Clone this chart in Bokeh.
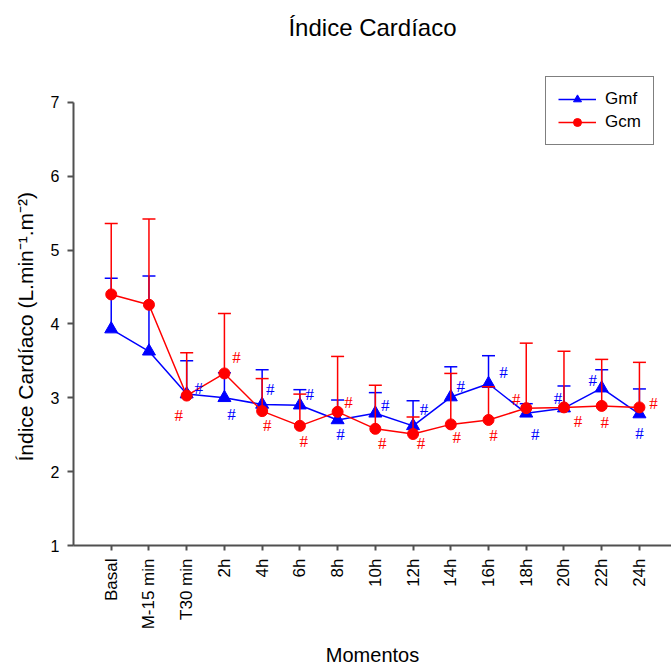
import math
from bokeh.plotting import figure
from bokeh.models import (Range1d, FixedTicker, ColumnDataSource, Legend,
                          LegendItem, Title)
from bokeh.core.properties import value
from bokeh.embed import file_html
from bokeh.resources import INLINE

# ---------------- data ----------------
momentos = ["Basal", "M-15 min", "T30 min", "2h", "4h", "6h", "8h", "10h",
            "12h", "14h", "16h", "18h", "20h", "22h", "24h"]
posicao = [1, 2, 3, 4, 5, 6, 7, 8, 9, 10, 11, 12, 13, 14, 15]
y_ticks = [1, 2, 3, 4, 5, 6, 7]

gmf_media = [3.93, 3.63, 3.05, 3.00, 2.91, 2.90, 2.70, 2.79, 2.62, 3.01, 3.19, 2.79, 2.86, 3.13, 2.78]
gmf_dp    = [0.69, 1.02, 0.45, 0.34, 0.47, 0.21, 0.27, 0.28, 0.34, 0.41, 0.38, 0.13, 0.30, 0.25, 0.34]
gcm_media = [4.40, 4.26, 3.03, 3.33, 2.82, 2.62, 2.81, 2.58, 2.51, 2.64, 2.70, 2.86, 2.87, 2.89, 2.87]
gcm_dp    = [0.96, 1.16, 0.58, 0.81, 0.44, 0.43, 0.75, 0.59, 0.23, 0.69, 0.45, 0.88, 0.76, 0.63, 0.61]

# significance marks (#): 1 = marked
gmf_sig = [0, 0, 1, 1, 1, 1, 1, 1, 1, 1, 1, 1, 1, 1, 1]
gcm_sig = [0, 0, 1, 1, 1, 1, 1, 1, 1, 1, 1, 1, 1, 1, 1]

# ---------------- styles (pixel offsets of the # marks) ----------------
gmf_dx = [0, 0, 12, 7, 8, 10, 3, 10, 11, 10, 15, 9, -6, -9, 0]
gmf_dy = [0, 0, -6, 17, -15, -11, 15, -8, -16, -11, -11, 21, -10, -8, 19]
gcm_dx = [0, 0, -8, 12, 5, 4, 11, 7, 8, 6, 5, -10, 14, 3, 14]
gcm_dy = [0, 0, 20, -16, 14, 16, -9, 15, 10, 13, 16, -9, 14, 17, -4]

BLUE = "#0000FF"
RED = "#FF0000"
AXIS = "#505050"
FONT = "Liberation Sans"

# frame: left 72, top 54, bottom 546 (1 -> 546 px, 7 -> 102 px, 74 px/unit)
p = figure(width=671, height=669, output_backend="svg", toolbar_location=None,
           x_range=Range1d(0, 15.85), y_range=Range1d(1, 7.6486),
           min_border_left=72, min_border_right=0, min_border_top=54,
           min_border_bottom=123, title="Índice Cardíaco")
p.outline_line_color = None
p.grid.visible = False
p.background_fill_color = "white"
p.border_fill_color = "white"

p.title.align = "center"
p.title.vertical_align = "top"
p.title.text_font = FONT
p.title.text_font_size = "24px"
p.title.text_font_style = "normal"
p.title.text_color = "black"
p.title.standoff = 24

# axes
for ax in (p.xaxis[0], p.yaxis[0]):
    ax.axis_line_color = AXIS
    ax.axis_line_width = 2
    ax.major_tick_line_color = AXIS
    ax.major_tick_line_width = 2
    ax.major_tick_in = 0
    ax.minor_tick_line_color = None
    ax.major_label_text_font = FONT
    ax.major_label_text_color = "black"
    ax.axis_label_text_font = FONT
    ax.axis_label_text_font_style = "normal"
    ax.axis_label_text_color = "black"

p.xaxis.ticker = FixedTicker(ticks=posicao)
p.xaxis.major_label_overrides = {k: lab for k, lab in zip(posicao, momentos)}
p.xaxis.major_label_orientation = math.pi / 2
p.xaxis.major_label_text_font_size = "17px"
p.xaxis.major_tick_out = 5
p.xaxis.major_label_standoff = 8
p.xaxis.axis_label = "Momentos"
p.xaxis.axis_label_text_font_size = "20px"
p.xaxis.axis_label_standoff = 12

p.yaxis.ticker = FixedTicker(ticks=y_ticks)
p.yaxis.bounds = (1, 7)
p.yaxis.major_label_text_font_size = "16px"
p.yaxis.major_tick_out = 6
p.yaxis.major_label_standoff = 8

# y-axis title, placed along the 1..7 span of the axis
ytitle = Title(text="Índice Cardíaco (L.min\u207b\u00b9.m\u207b\u00b2)",
               align="left", offset=84, standoff=22,
               text_font=FONT, text_font_size="21px",
               text_font_style="normal", text_color="black")
p.add_layout(ytitle, "left")


def series(media, dp, color, marker, size):
    sup = [m + d for m, d in zip(media, dp)]
    src = ColumnDataSource(dict(x=posicao, y=media, top=sup))
    p.segment(x0="x", y0="y", x1="x", y1="top", source=src,
              line_color=color, line_width=1.5)
    p.scatter(x="x", y="top", source=src, marker="dash", size=13,
              line_color=color, line_width=1.5)
    ln = p.line(x="x", y="y", source=src, line_color=color, line_width=1.5)
    mk = p.scatter(x="x", y="y", source=src, marker=marker, size=size,
                   fill_color=color, line_color=color)
    return ln, mk


gmf_line, gmf_mk = series(gmf_media, gmf_dp, BLUE, "triangle", 13)
gcm_line, gcm_mk = series(gcm_media, gcm_dp, RED, "circle", 11)


def marks(media, sig, dx, dy, color):
    xs, ys, ox, oy = [], [], [], []
    for xi, m, s, a, b in zip(posicao, media, sig, dx, dy):
        if s:
            xs.append(xi); ys.append(m); ox.append(a); oy.append(b)
    src = ColumnDataSource(dict(x=xs, y=ys, dx=ox, dy=oy, t=["#"] * len(xs)))
    p.text(x="x", y="y", text="t", x_offset="dx", y_offset="dy", source=src,
           text_font=value("Liberation Serif"), text_font_size="17px",
           text_color=color, text_align="center", text_baseline="middle")


marks(gmf_media, gmf_sig, gmf_dx, gmf_dy, BLUE)
marks(gcm_media, gcm_sig, gcm_dx, gcm_dy, RED)

legend = Legend(items=[LegendItem(label="Gmf", renderers=[gmf_line, gmf_mk]),
                       LegendItem(label="Gcm", renderers=[gcm_line, gcm_mk])],
                location=(472, 400), margin=0, padding=12, spacing=3,
                glyph_width=38, glyph_height=20, label_height=20,
                label_standoff=9, label_text_font=FONT,
                label_text_font_size="17px", label_text_color="black",
                border_line_color="black", border_line_width=1.5,
                background_fill_color="white", background_fill_alpha=1.0)
p.add_layout(legend, "center")

open("out.html", "w").write(file_html(p, INLINE))
